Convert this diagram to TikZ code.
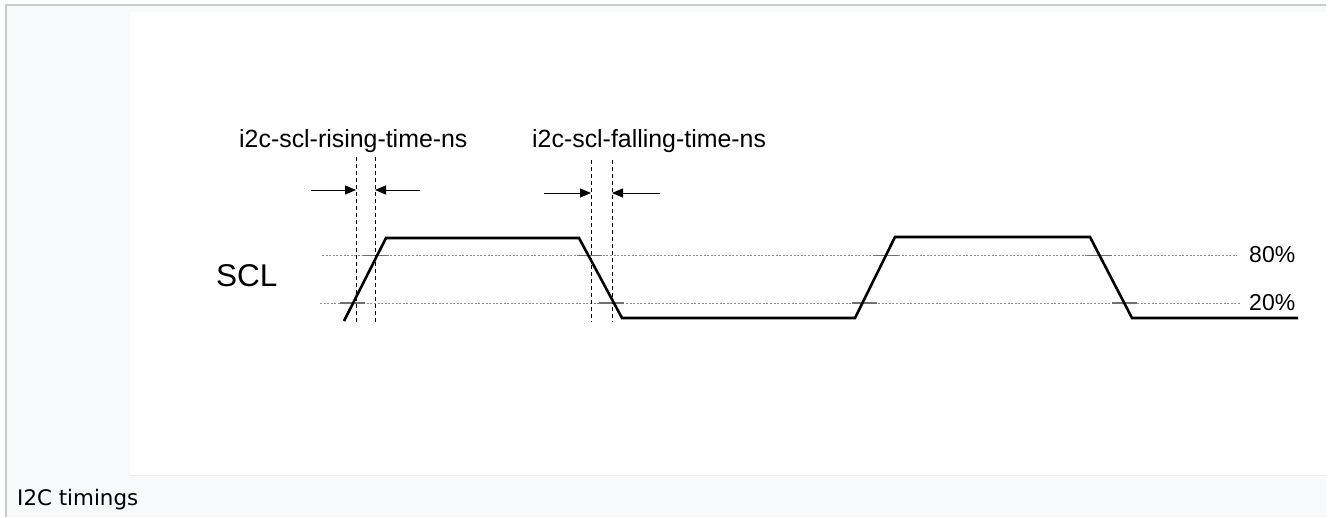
\documentclass[tikz,border=0pt]{standalone}
\usepackage{fontspec}
\setmainfont{Liberation Sans}
\newfontfamily\capfont{DejaVu Sans}
\usetikzlibrary{arrows.meta}
\definecolor{framebg}{HTML}{F8F9FA}
\definecolor{frameline}{HTML}{C8CCD1}
\definecolor{imgline}{HTML}{EAECF0}
\definecolor{dotgray}{HTML}{8C8C8C}
\definecolor{tickgray}{HTML}{707070}
\begin{document}
\begin{tikzpicture}[x=1pt,y=-1pt,
  wave/.style={draw=black, line width=2.6pt, line join=miter},
  level/.style={draw=dotgray, line width=1pt, dash pattern=on 2pt off 1.6pt},
  tickmark/.style={draw=tickgray, line width=1.6pt},
  guide/.style={draw=black, line width=0.9pt, dash pattern=on 4pt off 3pt},
  dimarrow/.style={draw=black, line width=1pt, -{Triangle[length=11pt,width=9pt]}},
  lbl/.style={inner sep=0pt, anchor=base west, font=\fontsize{24.9}{28}\selectfont},
  pct/.style={inner sep=0pt, anchor=base west, font=\fontsize{23}{26}\selectfont},
]
\useasboundingbox (0,0) rectangle (1331,517);
\fill[white] (0,0) rectangle (1331,517);
\fill[framebg] (6,5) rectangle (1326,517);
\draw[frameline, line width=1.2pt] (6,517) -- (6,5) -- (1326,5);
\fill[white] (130,12) rectangle (1326,475);
\draw[imgline, line width=1pt] (130,475) -- (1326,475);

% level lines
\coordinate (l80a) at (322,255.5);
\coordinate (l80b) at (1237,255.5);
\coordinate (l20a) at (320,303);
\coordinate (l20b) at (1240,303);
\draw[level] (l80a) -- (l80b);
\draw[level] (l20a) -- (l20b);

% tick marks at crossings
\foreach \x/\y [count=\i] in {375.5/255.5, 352/303, 589/255.5, 611/303, 885.5/255.5, 864/303, 1099.5/255.5, 1124/303}{
  \coordinate (ta\i) at (\x-12.5,\y);
  \coordinate (tb\i) at (\x+12.5,\y);
  \draw[tickmark] (ta\i) -- (tb\i);
}

% waveform
\coordinate (w0) at (344,321);
\coordinate (w1) at (386,238);
\coordinate (w2) at (579,238);
\coordinate (w3) at (622,318);
\coordinate (w4) at (855,318);
\coordinate (w5) at (895,237);
\coordinate (w6) at (1090,237);
\coordinate (w7) at (1132,318);
\coordinate (w8) at (1298,318);
\draw[wave] (w0) -- (w1) -- (w2) -- (w3) -- (w4) -- (w5) -- (w6) -- (w7) -- (w8);

% guides
\coordinate (g1a) at (356,157); \coordinate (g1b) at (356,322);
\coordinate (g2a) at (375,157); \coordinate (g2b) at (375,322);
\coordinate (g3a) at (591,160); \coordinate (g3b) at (591,322);
\coordinate (g4a) at (612,160); \coordinate (g4b) at (612,322);
\draw[guide] (g1a) -- (g1b);
\draw[guide] (g2a) -- (g2b);
\draw[guide] (g3a) -- (g3b);
\draw[guide] (g4a) -- (g4b);

% dimension arrows
\coordinate (a1s) at (311,190); \coordinate (a1e) at (356,190);
\coordinate (a2s) at (420,190); \coordinate (a2e) at (375,190);
\coordinate (a3s) at (544,193); \coordinate (a3e) at (591,193);
\coordinate (a4s) at (660,193); \coordinate (a4e) at (612,193);
\draw[dimarrow] (a1s) -- (a1e);
\draw[dimarrow] (a2s) -- (a2e);
\draw[dimarrow] (a3s) -- (a3e);
\draw[dimarrow] (a4s) -- (a4e);

% labels
\node[lbl] (rise) at (239,147) {i2c-scl-rising-time-ns};
\node[lbl] (fall) at (532,147) {i2c-scl-falling-time-ns};
\node[inner sep=0pt, anchor=base west, font=\fontsize{31.5}{36}\selectfont] (scl) at (216,286) {SCL};
\node[pct] (p80) at (1249,262) {80\%};
\node[pct] (p20) at (1249,310) {20\%};
\node[inner sep=0pt, anchor=base west, font=\capfont\fontsize{21.4}{24}\selectfont] (cap) at (17,505) {I2C timings};
\end{tikzpicture}
\end{document}
